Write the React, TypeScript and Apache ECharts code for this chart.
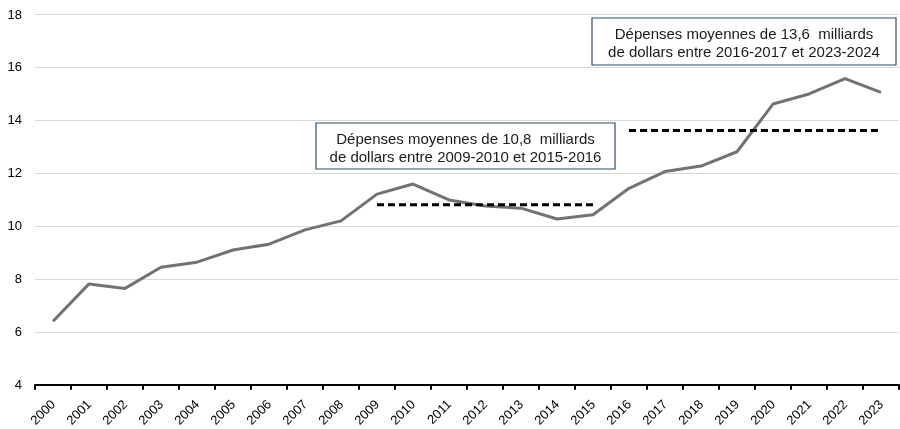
import React, { useEffect, useRef } from "react";
import * as echarts from "echarts";

const years = ["2000","2001","2002","2003","2004","2005","2006","2007","2008","2009","2010","2011","2012","2013","2014","2015","2016","2017","2018","2019","2020","2021","2022","2023"];
const spending = [6.4, 7.81, 7.64, 8.44, 8.63, 9.09, 9.31, 9.85, 10.19, 11.2, 11.58, 10.98, 10.75, 10.67, 10.26, 10.42, 11.42, 12.05, 12.26, 12.8, 14.6, 14.98, 15.56, 15.04];
const yTicks = { min: 4, max: 18, interval: 2 };

const avg1Value = 10.8;
const avg1Range = ["2009", "2015"];
const avg1Label = "Dépenses moyennes de 10,8  milliards\nde dollars entre 2009-2010 et 2015-2016";

const avg2Value = 13.6;
const avg2Range = ["2016", "2023"];
const avg2Label = "Dépenses moyennes de 13,6  milliards\nde dollars entre 2016-2017 et 2023-2024";

function avgSeries(value: number, range: string[]) {
  const s = years.indexOf(range[0]);
  const e = years.indexOf(range[1]);
  return years.map((_, i) => (i >= s && i <= e ? value : null));
}

const FONT = "'Liberation Sans', Arial, sans-serif";

export default function App() {
  const ref = useRef<HTMLDivElement>(null);
  useEffect(() => {
    if (!ref.current) return;
    const chart = echarts.init(ref.current, null, { renderer: "svg" });
    const box = (x: number, y: number, w: number, h: number, text: string) => ({
      type: "group",
      children: [
        {
          type: "rect",
          shape: { x, y, width: w, height: h },
          style: { fill: "#ffffff", stroke: "#2f4a66", lineWidth: 1.2 },
          z: 10,
        },
        {
          type: "text",
          x: x + w / 2,
          y: y + h / 2 + 1,
          style: {
            text,
            fill: "#1a1a1a",
            font: `15px ${FONT}`,
            align: "center",
            verticalAlign: "middle",
            lineHeight: 18,
          },
          z: 11,
        },
      ],
    });
    chart.setOption({
      animation: false,
      textStyle: { fontFamily: FONT },
      grid: { left: 35, right: 1, top: 14, bottom: 44, containLabel: false },
      xAxis: {
        type: "category",
        data: years,
        boundaryGap: true,
        axisLine: { show: true, lineStyle: { color: "#000", width: 2 } },
        axisTick: { show: true, length: 5, lineStyle: { color: "#000", width: 2 } },
        axisLabel: { rotate: 45, interval: 0, fontSize: 13, color: "#000", margin: 17, fontFamily: FONT },
      },
      yAxis: {
        type: "value",
        min: yTicks.min,
        max: yTicks.max,
        interval: yTicks.interval,
        axisLine: { show: false },
        axisTick: { show: false },
        axisLabel: { fontSize: 13, color: "#000", margin: 13, fontFamily: FONT },
        splitLine: { lineStyle: { color: "#d9d9d9", width: 1 } },
      },
      series: [
        {
          type: "line",
          data: spending,
          symbol: "none",
          lineStyle: { color: "#767171", width: 3 },
          z: 3,
        },
        {
          type: "line",
          data: avgSeries(avg1Value, avg1Range),
          symbol: "none",
          lineStyle: { color: "#000", width: 3, type: [7, 4] },
          z: 4,
        },
        {
          type: "line",
          data: avgSeries(avg2Value, avg2Range),
          symbol: "none",
          lineStyle: { color: "#000", width: 3, type: [7, 4] },
          z: 4,
        },
      ],
      graphic: [box(316, 123, 299, 46, avg1Label), box(592, 18, 304, 47, avg2Label)],
    });
    return () => chart.dispose();
  }, []);
  return <div ref={ref} style={{ position: "fixed", left: 0, top: 0, width: 900, height: 429 }} />;
}
